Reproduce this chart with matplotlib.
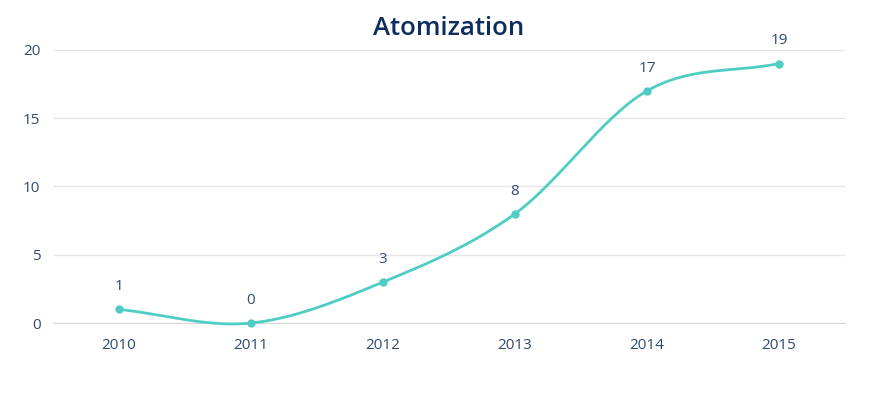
import numpy as np
import matplotlib
matplotlib.use("Agg")
import matplotlib.pyplot as plt

plt.rcParams['font.family'] = ['Open Sans', 'DejaVu Sans']

years = [2010, 2011, 2012, 2013, 2014, 2015]
counts = [1, 0, 3, 8, 17, 19]
title = 'Atomization'

line_color = '#4ecdc4'
text_color = '#2e4a72'

# smooth curve through the points (cubic hermite, catmull-rom tangents)
x = np.array(years, dtype=float)
y = np.array(counts, dtype=float)
m = np.gradient(y, x)
xs, ys = [], []
for i in range(len(x) - 1):
    t = np.linspace(0, 1, 60)
    h = x[i + 1] - x[i]
    h00 = 2*t**3 - 3*t**2 + 1
    h10 = t**3 - 2*t**2 + t
    h01 = -2*t**3 + 3*t**2
    h11 = t**3 - t**2
    xs.extend(x[i] + t*h)
    ys.extend(h00*y[i] + h10*h*m[i] + h01*y[i+1] + h11*h*m[i+1])

fig = plt.figure(figsize=(8.8, 3.93), dpi=100)
ax = fig.add_axes([0.0602, 0.178, 0.9, 0.695])

ax.plot(xs, ys, color=line_color, lw=2, clip_on=False, zorder=3)
ax.plot(years, counts, 'o', color=line_color, ms=5, clip_on=False, zorder=4)
for xv, yv in zip(years, counts):
    ax.annotate(str(yv), (xv, yv), xytext=(0, 11), textcoords='offset points',
                ha='center', va='bottom', color=text_color, fontsize=11)

ax.set_xlim(2009.5, 2015.5)
ax.set_ylim(0, 20)
ax.set_xticks(years)
ax.set_yticks([0, 5, 10, 15, 20])
ax.grid(axis='y', color='#e6e6e6', lw=1)
ax.set_axisbelow(True)
for s in ['top', 'right', 'left']:
    ax.spines[s].set_visible(False)
ax.spines['bottom'].set_color('#d8d8d8')
ax.tick_params(length=0, colors=text_color, labelsize=11)
ax.tick_params(axis='x', pad=11)
ax.tick_params(axis='y', pad=9)

fig.text(0.51, 0.928, title, ha='center', va='center', fontsize=18.5,
         fontweight='semibold', color='#0d2d5c')

fig.savefig('out.png', dpi=100)
